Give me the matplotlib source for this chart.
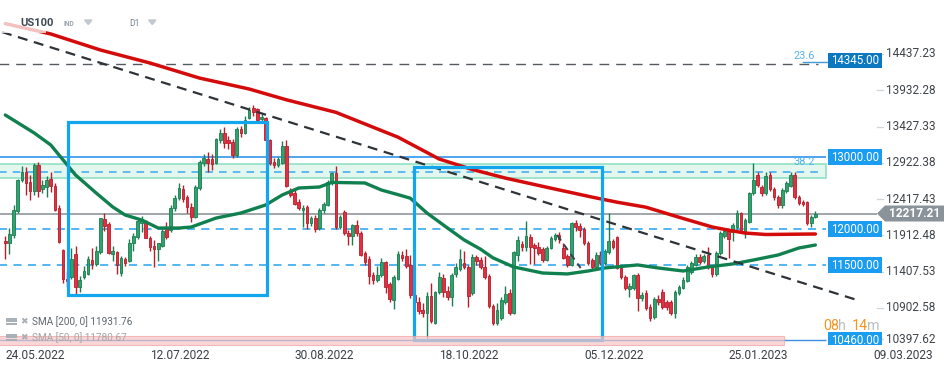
import matplotlib
matplotlib.use("Agg")
import matplotlib.pyplot as plt
from matplotlib.patches import Rectangle, Polygon
import numpy as np

plt.rcParams["font.family"] = ["Roboto", "DejaVu Sans"]

# ---------------- data ----------------
OPEN = [
    11840, 11800, 11920, 12250, 12680, 12800, 12660, 12530, 12890, 12560,
    12590, 12700, 12600, 12300, 11710, 11300, 11330, 11650, 11190, 11330,
    11380, 11570, 11520, 11680, 12140, 12070, 11650, 11680, 11390, 11590,
    11560, 11800, 11890, 12090, 12110, 11880, 11770, 11720, 11770, 12020,
    11990, 12300, 12430, 12560, 12440, 12310, 12170, 12570, 12920, 12980,
    12970, 12920, 13240, 13340, 13240, 13210, 13030, 13390, 13340, 13550,
    13690, 13670, 13530, 13540, 13240, 12930, 12890, 12920, 13150, 12530,
    12500, 12380, 12260, 12310, 12085, 12160, 12010, 12260, 12340, 12640,
    12780, 12030, 12240, 11945, 11905, 12055, 11945, 11665, 11585, 11360,
    11295, 11360, 11540, 11235, 11015, 11310, 11640, 11625, 11500, 11085,
    10985, 10870, 10830, 11070, 10700, 11120, 11320, 11140, 11055, 11375,
    11445, 11530, 11475, 11110, 11610, 11570, 11475, 11345, 10930, 10695,
    10765, 10990, 11110, 10835, 11640, 11795, 11750, 11890, 11780, 11750,
    11720, 11570, 11735, 11865, 11915, 11740, 11625, 11500, 12085, 12040,
    12000, 11805, 11570, 11475, 11640, 11530, 11685, 11835, 11890, 11460,
    11335, 11170, 11180, 11360, 11040, 11110, 10915, 10775, 11025, 11130,
    10985, 10985, 10835, 11110, 11180, 11280, 11405, 11500, 11610, 11555,
    11640, 11475, 11375, 11665, 11905, 11975, 11960, 12030, 12225, 11960,
    12100, 12505, 12755, 12585, 12505, 12755, 12560, 12445, 12335, 12530,
    12600, 12755, 12445, 12375, 12375, 12085, 12170]
HIGH = [
    11900, 12020, 12330, 12700, 12880, 12860, 12760, 12920, 12940, 12680,
    12740, 12800, 12640, 12330, 11730, 11420, 11740, 11760, 11350, 11480,
    11620, 11740, 11760, 12160, 12230, 12100, 11760, 11700, 11620, 11610,
    11860, 11950, 12150, 12180, 12130, 11910, 11850, 11810, 12000, 12100,
    12330, 12480, 12640, 12620, 12470, 12360, 12620, 12960, 13050, 13080,
    13050, 13270, 13390, 13420, 13290, 13250, 13420, 13430, 13570, 13700,
    13730, 13690, 13620, 13560, 13250, 12990, 13010, 13220, 13240, 12570,
    12540, 12420, 12340, 12340, 12180, 12200, 12300, 12380, 12680, 12800,
    12880, 12200, 12260, 11990, 12070, 12130, 11980, 11690, 11620, 11400,
    11490, 11600, 11560, 11260, 11360, 11700, 11690, 11720, 11640, 11130,
    11060, 10970, 11120, 11250, 11140, 11400, 11370, 11210, 11390, 11530,
    11720, 11690, 11500, 11650, 11640, 11610, 11620, 11370, 10960, 10970,
    11060, 11210, 11170, 11700, 11900, 11840, 12110, 11930, 11810, 11820,
    11750, 11760, 11900, 11940, 11960, 11800, 11650, 12100, 12130, 12080,
    12030, 11830, 11600, 11680, 11700, 11720, 12220, 11860, 11900, 11480,
    11360, 11250, 11380, 11390, 11120, 11150, 10960, 11060, 11080, 11160,
    11020, 11010, 11150, 11220, 11330, 11500, 11560, 11650, 11650, 11660,
    11750, 11500, 11690, 11980, 12010, 12000, 12080, 12260, 12240, 12150,
    12520, 12920, 12800, 12620, 12790, 12790, 12590, 12470, 12570, 12670,
    12790, 12790, 12470, 12400, 12390, 12190, 12250]
LOW = [
    11580, 11660, 11880, 12230, 12650, 12480, 12400, 12480, 12450, 12500,
    12440, 12520, 12250, 11800, 11250, 11200, 11300, 11100, 11130, 11300,
    11360, 11440, 11480, 11660, 11980, 11650, 11560, 11380, 11350, 11490,
    11540, 11700, 11860, 11960, 11870, 11700, 11470, 11560, 11750, 11860,
    11960, 12250, 12400, 12380, 12220, 12100, 12150, 12540, 12880, 12800,
    12820, 12900, 13200, 13130, 13110, 12990, 13000, 13280, 13320, 13530,
    13580, 13480, 13480, 13220, 12890, 12850, 12860, 12900, 12580, 12440,
    12330, 12260, 12030, 12000, 12040, 11960, 11990, 12230, 12320, 12610,
    12000, 12000, 11920, 11780, 11780, 11900, 11620, 11500, 11240, 11230,
    11260, 11330, 11110, 10990, 10890, 11290, 11560, 11460, 11040, 10900,
    10820, 10780, 10480, 10700, 10680, 11100, 11060, 11010, 10930, 11340,
    11420, 11440, 10920, 11080, 11500, 11440, 11300, 10900, 10660, 10670,
    10740, 10960, 10800, 10820, 11560, 11700, 11700, 11520, 11520, 11640,
    11540, 11550, 11720, 11840, 11800, 11580, 11470, 11480, 11980, 11890,
    11780, 11500, 11440, 11450, 11500, 11500, 11660, 11720, 11440, 11300,
    11150, 11055, 11150, 10860, 11000, 10880, 10720, 10750, 10950, 10890,
    10880, 10800, 10760, 11080, 11160, 11260, 11380, 11480, 11520, 11530,
    11450, 11340, 11350, 11640, 11880, 11600, 11840, 12000, 11940, 11870,
    12080, 12480, 12580, 12460, 12480, 12530, 12400, 12300, 12300, 12500,
    12580, 12420, 12340, 12320, 12060, 12030, 12150]
CLOSE = [
    11800, 11930, 12260, 12680, 12800, 12640, 12530, 12890, 12530, 12610,
    12680, 12600, 12270, 11820, 11310, 11280, 11590, 11190, 11290, 11420,
    11580, 11510, 11690, 12150, 12050, 11670, 11690, 11500, 11600, 11530,
    11800, 11900, 12110, 12130, 11880, 11750, 11720, 11800, 11980, 11890,
    12300, 12430, 12570, 12420, 12310, 12170, 12580, 12930, 12990, 12920,
    12910, 13250, 13340, 13200, 13200, 13030, 13390, 13340, 13520, 13660,
    13630, 13520, 13560, 13240, 12920, 12890, 12970, 13160, 12600, 12480,
    12350, 12290, 12295, 12085, 12155, 12000, 12260, 12350, 12650, 12780,
    12030, 12170, 11950, 11905, 12055, 11945, 11640, 11545, 11350, 11295,
    11360, 11540, 11195, 11030, 11330, 11650, 11600, 11490, 11085, 10990,
    10860, 10830, 11070, 10720, 11120, 11330, 11125, 11055, 11360, 11470,
    11585, 11475, 11070, 11610, 11550, 11475, 11335, 10930, 10695, 10875,
    11010, 11095, 10835, 11680, 11850, 11750, 11905, 11750, 11740, 11670,
    11570, 11735, 11875, 11915, 11860, 11600, 11500, 12085, 12030, 11990,
    11805, 11530, 11475, 11640, 11530, 11695, 11835, 11750, 11460, 11335,
    11180, 11210, 11360, 11040, 11080, 10905, 10765, 11025, 10985, 10915,
    10920, 10835, 11125, 11195, 11290, 11470, 11530, 11610, 11545, 11625,
    11475, 11375, 11665, 11945, 11975, 11860, 12055, 12225, 11960, 12125,
    12500, 12685, 12615, 12505, 12740, 12560, 12445, 12335, 12545, 12640,
    12755, 12445, 12365, 12350, 12085, 12165, 12217.21]

SMA200_BAR = [0, 11, 23, 35, 47, 59, 68, 80, 95, 105, 113, 121, 132, 142,
              148, 155, 163, 171, 175, 179, 184, 196]
SMA200_VAL = [14860, 14716, 14493, 14312, 14102, 13950, 13800, 13625, 13280,
              12975, 12830, 12710, 12570, 12445, 12375, 12305, 12165, 12030,
              11985, 11945, 11925, 11932]
SMA50_BAR = [0, 7, 11, 14, 17, 22, 26, 29, 33, 37, 42, 45, 51, 57, 63, 67, 71,
             76, 79, 87, 91, 95, 98, 102, 107, 111, 115, 118, 123, 130, 136,
             141, 145, 153, 158, 164, 170, 176, 181, 187, 192, 196]
SMA50_VAL = [13588, 13338, 13171, 12962, 12753, 12502, 12308, 12196, 12127,
             12015, 12015, 12029, 12154, 12224, 12336, 12475, 12572, 12586,
             12650, 12642, 12544, 12480, 12430, 12225, 12015, 11850, 11720,
             11600, 11473, 11389, 11376, 11417, 11459, 11501, 11459, 11417,
             11473, 11515, 11570, 11640, 11737, 11779]

LAST_PRICE = 12217.21
SMA200_LAST = 11931.76
SMA50_LAST = 11780.67
LEVEL_DASHED = [12000.00, 11500.00]
LEVEL_SOLID = 13000.00
FIB_236_LABEL = 14345.00
FIB_236_LINE = 14300
FIB_382_LINE = 12795
ZONE_GREEN = (12710, 12905)
ZONE_RED = (10390, 10512)
SUPPORT_LOW = 10460.00
TREND_BARS = [-0.8, 206.1]
TREND_VALS = [14743, 11013]
ABC_BARS = [133.5, 139.2]
ABC_VALS = [11918, 11459]
BOX1 = (15.1, 63.25, 11083, 13495)
BOX2 = (99.0, 144.3, 10456, 12869)
XTICK_POS = [0, 35, 70, 105, 140, 175, 210]
XTICK_LABELS = ["24.05.2022", "12.07.2022", "30.08.2022", "18.10.2022",
                "05.12.2022", "25.01.2023", "09.03.2023"]
YTICKS = [14437.23, 13932.28, 13427.33, 12922.38, 12417.43, 11912.48,
          11407.53, 10902.58, 10397.62]

# ---------------- layout ----------------
W, H = 949, 370
fig = plt.figure(figsize=(W / 100, H / 100), dpi=100)
fig.patch.set_facecolor("white")
AX_R, AX_B = 877, 346
ax = fig.add_axes([0, (H - AX_B) / H, AX_R / W, AX_B / H])
ax.set_xlim(-1.282, 210.91)
ax.set_ylim(10373.1, 15188.8)
for s in ax.spines.values():
    s.set_visible(False)
ax.set_yticks([])
ax.set_xticks(XTICK_POS, XTICK_LABELS)
for lab in ax.get_xticklabels():
    lab.set_ha("left")
ax.tick_params(axis="x", length=0, pad=2.5, labelsize=8.6, labelcolor="#3a3f44")

LEVEL_END = 198.6   # bar index where level lines stop (label boxes start)

# zones
ax.add_patch(Rectangle((-2, ZONE_GREEN[0]), LEVEL_END + 2, ZONE_GREEN[1] - ZONE_GREEN[0],
                       facecolor="#e3f7ef", edgecolor="#92e0c4", lw=1.2, zorder=1))
# level lines
ax.hlines(LEVEL_SOLID, -2, LEVEL_END, color="#2f95ea", lw=1.2, zorder=2)
ax.hlines(FIB_382_LINE, -2, LEVEL_END - 2, color="#39a9ee", lw=1.1,
          linestyles=(0, (5, 4)), zorder=2)
ax.hlines(LEVEL_DASHED, -2, LEVEL_END, color="#45b0f2", lw=1.3,
          linestyles=(0, (4.5, 3.5)), zorder=2)
ax.hlines(FIB_236_LINE, -2, LEVEL_END - 2, color="#555a60", lw=1.0,
          linestyles=(0, (7, 5)), zorder=2)
ax.hlines(SUPPORT_LOW, -2, LEVEL_END, color="#3c8de0", lw=1.0, zorder=2)
ax.axhline(LAST_PRICE, color="#8d969d", lw=1.2, zorder=2)

# candles
o = np.array(OPEN, float); h = np.array(HIGH, float)
l = np.array(LOW, float); c = np.array(CLOSE, float)
x = np.arange(len(c))
up = c >= o
G_FACE, G_EDGE = "#2ea36d", "#1b7d50"
R_FACE, R_EDGE = "#e23041", "#b81d2c"
wick_col = np.where(up, G_EDGE, R_EDGE)
ax.vlines(x, l, h, colors=wick_col, lw=1.0, zorder=3)
body = np.maximum(np.abs(c - o), 18)
ax.bar(x, body, bottom=np.minimum(o, c), width=0.64,
       color=np.where(up, G_FACE, R_FACE), edgecolor=wick_col, lw=0.6, zorder=4)

# moving averages
ax.plot(SMA50_BAR, SMA50_VAL, color="#11804f", lw=2.4, zorder=5,
        solid_capstyle="round", solid_joinstyle="round")
ax.plot(SMA200_BAR, SMA200_VAL, color="#d40b0b", lw=2.5, zorder=5,
        solid_capstyle="round", solid_joinstyle="round")

# trend lines
ax.plot(TREND_BARS, TREND_VALS, color="#2e3338", lw=1.6,
        linestyle=(0, (4.5, 3)), zorder=6)
ax.plot(ABC_BARS, ABC_VALS, color="#3a3f44", lw=1.4,
        linestyle=(0, (3.5, 2.5)), zorder=6)

# blue boxes
for (x0, x1, y0, y1) in (BOX1, BOX2):
    ax.add_patch(Rectangle((x0, y0), x1 - x0, y1 - y0, fill=False,
                           edgecolor="#12a6ee", lw=2.3, zorder=7))
# red zone on top (semi transparent)
ax.add_patch(Rectangle((-2, ZONE_RED[0]), 190.3, ZONE_RED[1] - ZONE_RED[0],
                       facecolor="#f8c6c6", edgecolor="#f2a0a0", lw=0.8,
                       alpha=0.7, zorder=8))

# ---------------- overlay in pixel coordinates ----------------
ov = fig.add_axes([0, 0, 1, 1], zorder=5)
ov.set_xlim(0, W); ov.set_ylim(H, 0); ov.axis("off")
ov.patch.set_alpha(0)


def py(price):
    return H - ax.transData.transform((0, price))[1]


clip = Rectangle((0, 0), W, 345, transform=ov.transData)

# header background + texts
ov.add_patch(Rectangle((0, 12), 46, 21, facecolor="white", alpha=0.75,
                       edgecolor="none", zorder=1))
ov.text(20.5, 23.5, "US100", fontsize=8.1, fontweight="bold", color="#3d4852",
        va="center", ha="left", zorder=2)
ov.text(64, 23.5, "IND", fontsize=4.8, fontweight="bold", color="#9aa3ab",
        va="center", ha="left", zorder=2)
ov.text(129, 23.5, "D1", fontsize=6.2, color="#77828c", va="center", ha="left", zorder=2)
for tx in (84.5, 148.5):
    ov.add_patch(Polygon([(tx, 20), (tx + 7.5, 20), (tx + 3.75, 24.5)],
                         closed=True, color="#c2c8ce", zorder=2))

# legend rows
for yrow, txt, col in ((321.5, "SMA [200, 0] %.2f" % SMA200_LAST, "#5f666c"),
                       (337.5, "SMA [50, 0] %.2f" % SMA50_LAST, "#a5a5a8")):
    for k in range(3):
        ov.plot([7, 16], [yrow - 3 + 2.6 * k] * 2, color="#a8afb5", lw=1.4, zorder=2)
    ov.text(23.5, yrow, "\u2716", fontsize=6.5, color="#a8afb5", va="center",
            ha="center", family="DejaVu Sans", zorder=2)
    ov.text(32, yrow, txt, fontsize=7.2, color=col, va="center", ha="left", zorder=2)

# fib texts
ov.text(815, 56, "23.6", fontsize=7.8, color="#52b2ee", ha="right", va="center")
ov.plot([803, 828], [py(FIB_236_LABEL) + 1] * 2, color="#3d9ad8", lw=1.0)
ov.text(815, py(LEVEL_SOLID) + 4.5, "38.2", fontsize=7.8, color="#52b2ee",
        ha="right", va="center")

# price label boxes
for price, col in ((FIB_236_LABEL, "#0b78bf"), (LEVEL_SOLID, "#1a9cf0"),
                   (LEVEL_DASHED[0], "#1a9cf0"), (LEVEL_DASHED[1], "#1a9cf0"),
                   (SUPPORT_LOW, "#1a9cf0")):
    yc = py(price)
    r = Rectangle((828, yc - 7.8), 54, 15.6, facecolor=col, edgecolor="none", zorder=3)
    t = ov.text(855, yc + 0.3, "%.2f" % price, fontsize=8.3, color="white",
                ha="center", va="center", zorder=4)
    ov.add_patch(r)
    r.set_clip_path(clip)
    t.set_clip_path(clip)

# y tick labels
for i, v in enumerate(YTICKS):
    yc = py(v)
    if i == len(YTICKS) - 1:
        yc -= 5
    ov.plot([877, 883], [py(v) if i < len(YTICKS) - 1 else yc] * 2,
            color="#d3d7db", lw=1.0)
    ov.text(886, yc, "%.2f" % v, fontsize=8.5, color="#3f4449", ha="left", va="center")

# current price tag
yc = py(LAST_PRICE)
ov.add_patch(Polygon([(877, yc), (885, yc - 8), (944, yc - 8), (944, yc + 8),
                      (885, yc + 8)], closed=True, facecolor="#8a9399",
                     edgecolor="none", zorder=3))
ov.text(914.5, yc + 0.3, "%.2f" % LAST_PRICE, fontsize=8.6, fontweight="bold",
        color="white", ha="center", va="center", zorder=4)

# countdown
for xx, s, col in ((823, "08", "#f5941f"), (838.5, "h", "#b9bec3"),
                   (851.5, "14", "#f5941f"), (867.5, "m", "#b9bec3")):
    ov.text(xx, 325.5, s, fontsize=10.3, color=col, ha="left", va="center")

fig.savefig("out.png", dpi=100)
